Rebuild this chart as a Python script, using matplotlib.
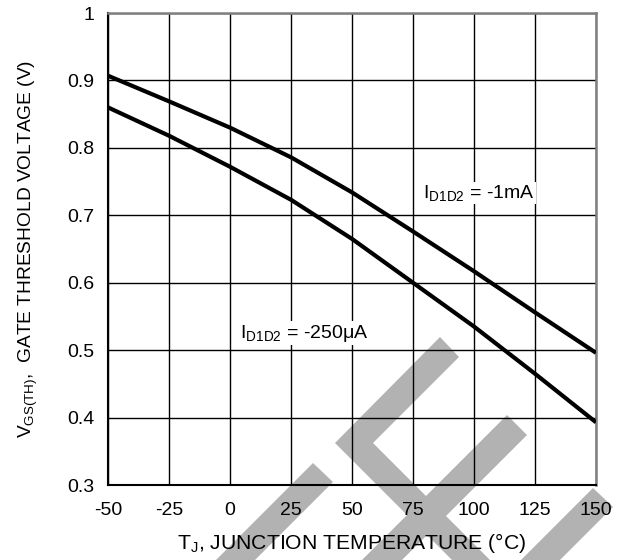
#!/usr/bin/env python3
"""Gate threshold voltage vs. junction temperature (two drain currents)."""

import matplotlib
matplotlib.use('Agg')
import matplotlib.pyplot as plt
from matplotlib.patches import Polygon

plt.rcParams['font.family'] = ['Liberation Sans', 'DejaVu Sans']
plt.rcParams['mathtext.fontset'] = 'custom'
plt.rcParams['mathtext.rm'] = 'Liberation Sans'
plt.rcParams['mathtext.it'] = 'Liberation Sans'

temps = [-50, -25, 0, 25, 50, 75, 100, 125, 150]
vth_1ma = [0.907, 0.869, 0.830, 0.786, 0.734, 0.676, 0.617, 0.556, 0.496]
vth_250ua = [0.860, 0.818, 0.772, 0.723, 0.665, 0.600, 0.535, 0.465, 0.393]

x_ticks = [-50, -25, 0, 25, 50, 75, 100, 125, 150]
y_ticks = [0.3, 0.4, 0.5, 0.6, 0.7, 0.8, 0.9, 1.0]
y_ticklabels = ['0.3', '0.4', '0.5', '0.6', '0.7', '0.8', '0.9', '1']

W, H = 627, 560
fig = plt.figure(figsize=(W / 100, H / 100), dpi=100)
ax = fig.add_axes([108 / W, 1 - 485 / H, (596 - 108) / W, (485 - 13) / H])
ax.set_facecolor('none')

# grey background stamp, drawn in figure pixels underneath the axes
GREY = '#b2b2b2'


def band(p1, p2, y_end=H + 5):
    # 45-degree strip running down-left from the square end p1-p2
    (x1, y1), (x2, y2) = p1, p2
    pts = [(x1, y1), (x2, y2), (x2 - (y_end - y2), y_end), (x1 - (y_end - y1), y_end)]
    return pts


def add_poly(pts):
    fig.add_artist(Polygon([(x / W, 1 - y / H) for x, y in pts], closed=True,
                           transform=fig.transFigure, facecolor=GREY,
                           edgecolor='none', zorder=-1))


add_poly(band((313, 463), (333, 482)))
add_poly(band((507, 415), (527, 435)))
add_poly(band((593, 488), (613, 507)))
# chevron
add_poly([(440, 337), (459, 357), (373, 443), (373 + 125, 443 + 125),
          (335 + 125, 443 + 125), (335, 443)])

ax.plot(temps, vth_1ma, color='black', lw=3.0, solid_capstyle='butt', zorder=3)
ax.plot(temps, vth_250ua, color='black', lw=3.0, solid_capstyle='butt', zorder=3)

ax.set_xlim(-50, 150)
ax.set_ylim(0.3, 1.0)
ax.set_xticks(x_ticks)
ax.set_xticklabels([str(t) for t in x_ticks])
ax.set_yticks(y_ticks)
ax.set_yticklabels(y_ticklabels)
ax.tick_params(length=0, labelsize=14, pad=10)
ax.tick_params(axis='x', pad=12)
ax.grid(True, color='black', lw=1.0, zorder=1)
ax.set_axisbelow(True)

for side in ('left', 'bottom'):
    ax.spines[side].set_color('black')
    ax.spines[side].set_linewidth(1.5)
for side in ('top', 'right'):
    ax.spines[side].set_color('#808080')
    ax.spines[side].set_linewidth(1.8)

ax.text(79, 0.733, r'$\mathregular{I_{D1D2}}$ = -1mA', fontsize=14,
        va='center', ha='left', zorder=4,
        bbox=dict(facecolor='white', edgecolor='none', pad=1))
ax.text(4, 0.525, r'$\mathregular{I_{D1D2}}$ = -250μA', fontsize=14,
        va='center', ha='left', zorder=4,
        bbox=dict(facecolor='white', edgecolor='none', pad=1))

ax.set_xlabel(r'$\mathregular{T_J}$, JUNCTION TEMPERATURE (°C)', fontsize=15.2,
              labelpad=9)
ax.set_ylabel(r'$\mathregular{V_{GS(TH)}}$,  GATE THRESHOLD VOLTAGE (V)',
              fontsize=13.8, labelpad=19)

fig.savefig('out.png', dpi=100)
